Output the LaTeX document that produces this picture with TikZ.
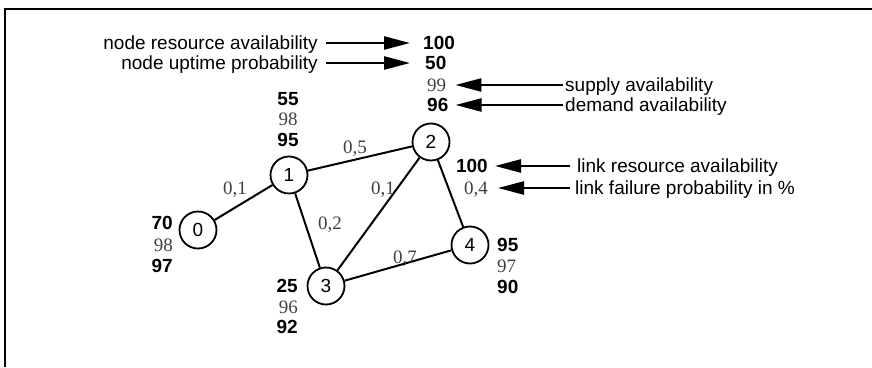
\documentclass[tikz,border=0pt]{standalone}
\usepackage{fontspec}
\setmainfont{Liberation Sans}
\newfontfamily\grayfont{Liberation Serif}
\usetikzlibrary{arrows.meta}
\begin{document}
\begin{tikzpicture}[x=1pt,y=-1pt,
 every node/.style={inner sep=0pt, text height=13.6pt, text depth=0pt},
 vertex/.style={circle, draw, line width=1.8pt, minimum size=37pt, font=\fontsize{19}{19}\selectfont},
 link/.style={line width=2pt},
 bnum/.style={font=\fontsize{19}{19}\selectfont\bfseries},
 gnum/.style={font=\fontsize{19}{19}\grayfont, text=black!75},
 desc/.style={font=\fontsize{19}{19}\selectfont},
 arr/.style={line width=2.4pt, -{Triangle[length=26pt,width=13pt]}},
 frame/.style={line width=1.8pt}]
\useasboundingbox (0,0) rectangle (872,367);
\draw[frame] (5,367) -- (5,9) -- (872,9);

% network nodes
\node[vertex] (v0) at (198,230) {0};
\node[vertex] (v1) at (289,175) {1};
\node[vertex] (v2) at (431,142) {2};
\node[vertex] (v3) at (326,286) {3};
\node[vertex] (v4) at (470,245) {4};

\draw[link] (v0) -- (v1);
\draw[link] (v1) -- (v2);
\draw[link] (v1) -- (v3);
\draw[link] (v2) -- (v3);
\draw[link] (v2) -- (v4);
\draw[link] (v3) -- (v4);

% edge labels
\node[gnum] (e01) at (235,188) {0,1};
\node[gnum] (e12) at (355,147) {0,5};
\node[gnum] (e13) at (330,223) {0,2};
\node[gnum] (e23) at (383,188) {0,1};
\node[gnum] (e34) at (405,257) {0,7};

% node 1 values
\node[bnum] (n1a) at (288,99) {55};
\node[gnum] (n1b) at (288,119) {98};
\node[bnum] (n1c) at (288,140) {95};

% node 0 values
\node[bnum, anchor=east] (n0a) at (173,223) {70};
\node[gnum, anchor=east] (n0b) at (173,245) {98};
\node[bnum, anchor=east] (n0c) at (173,266) {97};

% node 3 values
\node[bnum, anchor=east] (n3a) at (298,286) {25};
\node[gnum, anchor=east] (n3b) at (298,307) {96};
\node[bnum, anchor=east] (n3c) at (298,327) {92};

% node 4 values
\node[bnum, anchor=west] (n4a) at (497,245) {95};
\node[gnum, anchor=west] (n4b) at (497,266) {97};
\node[bnum, anchor=west] (n4c) at (497,287) {90};

% node 2 values (legend)
\node[bnum, anchor=west] (a100) at (423,43) {100};
\node[bnum, anchor=west] (a50) at (425,63) {50};
\node[gnum, anchor=west] (a99) at (427,85) {99};
\node[bnum, anchor=west] (a96) at (427,105) {96};

% link values (legend)
\node[bnum, anchor=east] (l100) at (488,166) {100};
\node[gnum, anchor=east] (l04) at (488,188) {0,4};

% descriptions
\node[desc, anchor=east] (t1) at (318,43) {node resource availability};
\node[desc, anchor=east] (t2) at (318,63) {node uptime probability};
\node[desc, anchor=west] (t3) at (565,85) {supply availability};
\node[desc, anchor=west] (t4) at (565,105) {demand availability};
\node[desc, anchor=west] (t5) at (577,166) {link resource availability};
\node[desc, anchor=west] (t6) at (575,188) {link failure probability in \%};

% legend arrows
\draw[arr] ([xshift=8pt]t1.east) -- ([xshift=-13pt]a100.west);
\draw[arr] ([xshift=8pt]t2.east) -- ([xshift=-15pt]a50.west);
\draw[arr] ([xshift=-2pt]t3.west) -- ([xshift=9pt]a99.east);
\draw[arr] ([xshift=-2pt]t4.west) -- ([xshift=7pt]a96.east);
\draw[arr] ([xshift=-7pt]t5.west) -- ([xshift=7pt]l100.east);
\draw[arr] ([xshift=-5pt]t6.west) -- ([xshift=10pt]l04.east);
\end{tikzpicture}
\end{document}
